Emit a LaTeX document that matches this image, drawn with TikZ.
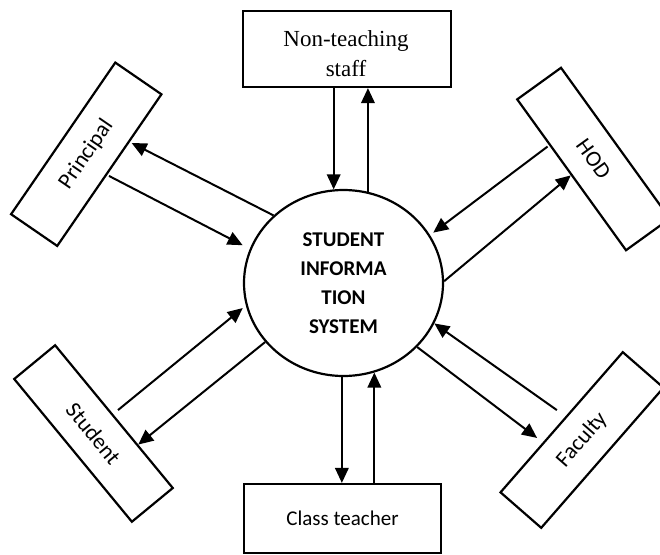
\documentclass[tikz,border=0pt]{standalone}
\usepackage{fontspec}
\usetikzlibrary{arrows.meta,shapes.geometric,calc}
\newfontfamily\carl{Carlito}
\newfontfamily\tnr{Liberation Serif}
\tikzset{
  boxshape/.style={draw, line width=2.2pt, rectangle, inner sep=0pt},
  rotlabel/.style={font=\carl\fontsize{22.5}{27}\selectfont},
  arr/.style={line width=2pt, -{Triangle[length=15pt,width=13.5pt]}},
}
\begin{document}
\begin{tikzpicture}[x=1pt,y=-1pt]
\useasboundingbox (0,0) rectangle (660,554);
\fill[white] (0,0) rectangle (660,554);
\clip (0,0) rectangle (660,554);

% central process
\node[ellipse, draw, line width=2.2pt, minimum width=199pt, minimum height=186pt,
      inner sep=0pt, align=center, font=\carl\bfseries\fontsize{21}{29}\selectfont]
      (sis) at (343.5,283) {STUDENT\\INFORMA\\TION\\SYSTEM};

% external entities
\node[boxshape, minimum width=208pt, minimum height=76pt] (nts) at (347,49) {};
\node[align=center, inner sep=0pt, font=\tnr\fontsize{23}{29.5}\selectfont]
      (ntsLabel) at (346,53.6) {Non-teaching\\staff};
\node[boxshape, minimum width=197pt, minimum height=69pt,
      font=\carl\fontsize{21}{25}\selectfont] (ct) at (342.5,518.5) {Class teacher};
\node[boxshape, rotlabel, rotate=55.5, minimum width=184pt, minimum height=56pt]
      (pr) at (86.25,154.25) {Principal};
\node[boxshape, rotlabel, rotate=-54.2, minimum width=186pt, minimum height=54pt]
      (hod) at (593.5,159) {HOD};
\node[boxshape, rotlabel, rotate=-50.5, minimum width=185pt, minimum height=53pt]
      (st) at (93.5,433.5) {Student};
\node[boxshape, rotlabel, rotate=48.9, minimum width=186pt, minimum height=54pt]
      (fa) at (582,440) {Faculty};

% attachment points on the tilted boxes
\begin{scope}[shift={(pr.center)}, rotate=55.5]
  \coordinate (prIn) at (35pt,-31pt);
  \coordinate (prOut) at (-5pt,-31pt);
\end{scope}
\begin{scope}[shift={(hod.center)}, rotate=-54.2]
  \coordinate (hodOut) at (-37pt,-30pt);
  \coordinate (hodIn) at (0pt,-28pt);
\end{scope}
\begin{scope}[shift={(st.center)}, rotate=-50.5]
  \coordinate (stOut) at (-2.5pt,33.8pt);
  \coordinate (stIn) at (37pt,27.5pt);
\end{scope}
\begin{scope}[shift={(fa.center)}, rotate=48.9]
  \coordinate (faOut) at (6pt,38.6pt);
  \coordinate (faIn) at (-28pt,35.2pt);
\end{scope}

% data flows
\draw[arr] (sis.96.5 |- nts.south) -- (sis.96.5);
\draw[arr] (sis.75.4) -- (sis.75.4 |- nts.south);
\draw[arr] (sis.269) -- (sis.269 |- ct.north);
\draw[arr] (sis.289 |- ct.north) -- (sis.289);

\draw[arr] (sis.136) -- (prIn);
\draw[arr, shorten >=8pt] (prOut) -- (sis.160);

\draw[arr, shorten >=4pt] (hodOut) -- (sis.29.5);
\draw[arr] (sis.1) -- (hodIn);

\draw[arr, shorten >=4pt] (stOut) -- (sis.193);
\draw[arr] (sis.217) -- (stIn);

\draw[arr] (faOut) -- (sis.336);
\draw[arr] (sis.319) -- (faIn);
\end{tikzpicture}
\end{document}
